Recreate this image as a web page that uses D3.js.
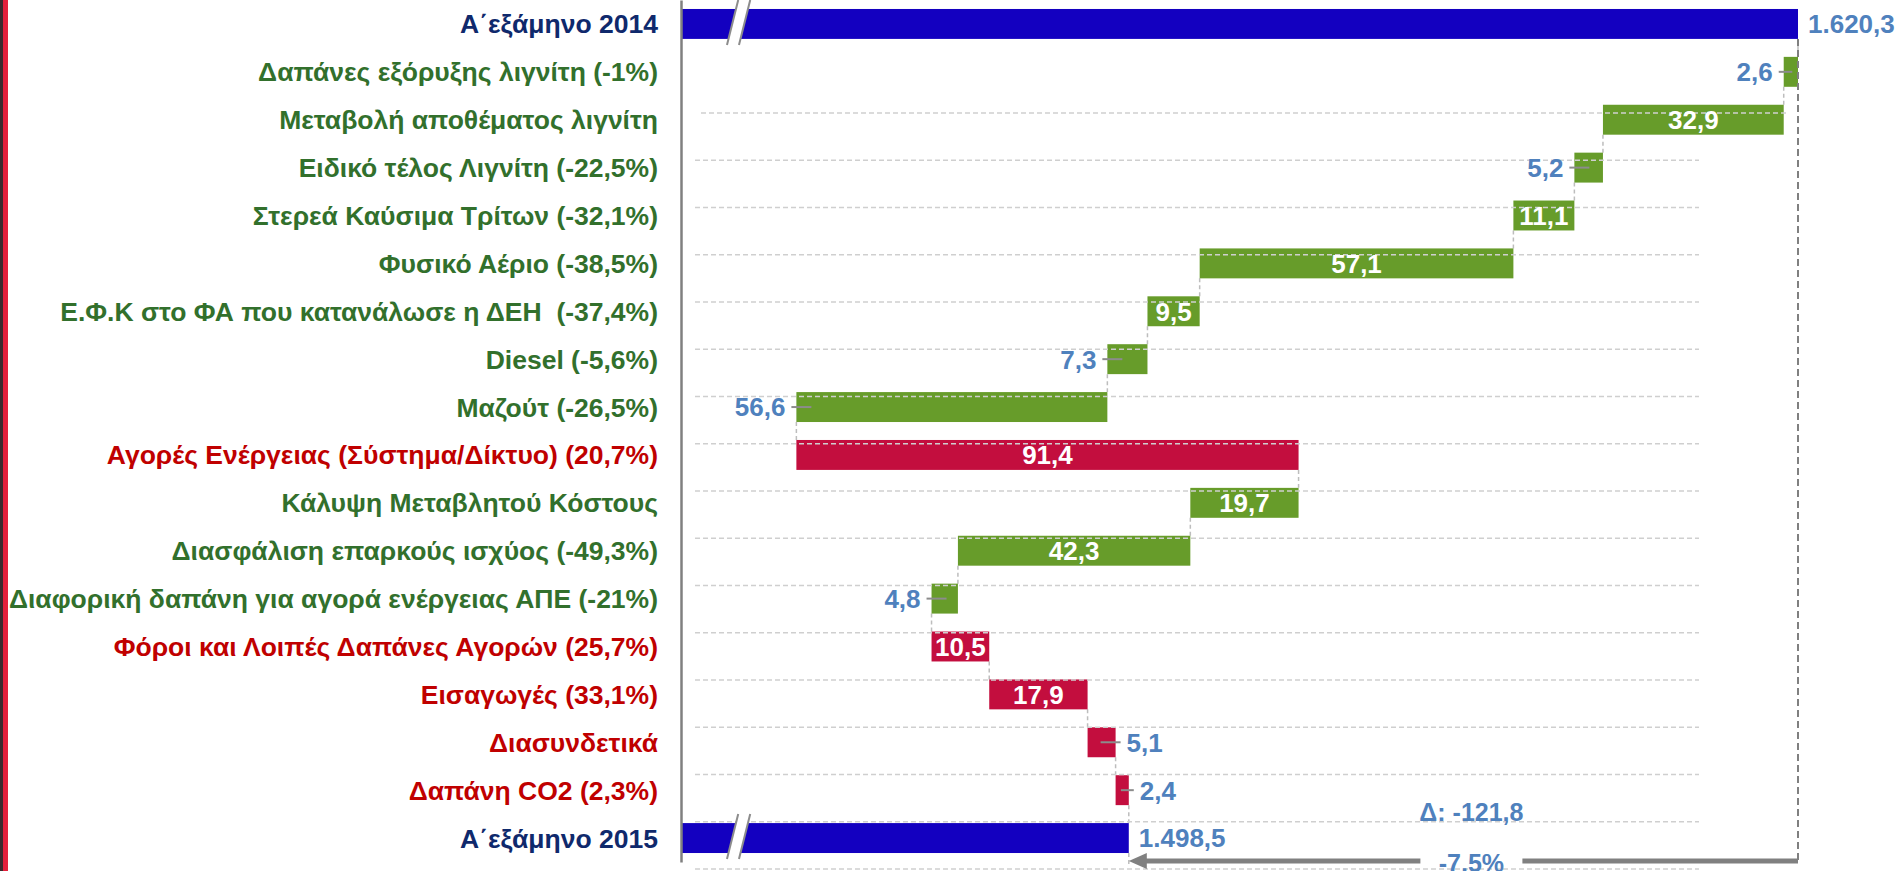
<!DOCTYPE html>
<html>
<head>
<meta charset="utf-8">
<script src="https://cdn.jsdelivr.net/npm/d3@7/dist/d3.min.js"></script>
<style>
  html, body { margin: 0; padding: 0; background: #fff; overflow: hidden; }
  svg { display: block; font-family: Arial, "Liberation Sans", sans-serif; font-weight: bold; }
  text { white-space: pre; }
</style>
</head>
<body>
<svg id="chart" width="1899" height="871"></svg>
<script>
// categories, top to bottom
const categories = [
  'Α΄εξάμηνο 2014',
  'Δαπάνες εξόρυξης λιγνίτη (-1%)',
  'Μεταβολή αποθέματος λιγνίτη',
  'Ειδικό τέλος Λιγνίτη (-22,5%)',
  'Στερεά Καύσιμα Τρίτων (-32,1%)',
  'Φυσικό Αέριο (-38,5%)',
  'Ε.Φ.Κ στο ΦΑ που κατανάλωσε η ΔΕΗ  (-37,4%)',
  'Diesel (-5,6%)',
  'Μαζούτ (-26,5%)',
  'Αγορές Ενέργειας (Σύστημα/Δίκτυο) (20,7%)',
  'Κάλυψη Μεταβλητού Κόστους',
  'Διασφάλιση επαρκούς ισχύος (-49,3%)',
  'Διαφορική δαπάνη για αγορά ενέργειας ΑΠΕ (-21%)',
  'Φόροι και Λοιπές Δαπάνες Αγορών (25,7%)',
  'Εισαγωγές (33,1%)',
  'Διασυνδετικά',
  'Δαπάνη CO2 (2,3%)',
  'Α΄εξάμηνο 2015'
];

// totals (first and last row)
const startTotal = 1620.3;
const endTotal = 1498.5;

// changes between the two totals, same order as categories[1..16]
const changes = [-2.6, -32.9, -5.2, -11.1, -57.1, -9.5, -7.3, -56.6, 91.4, -19.7, -42.3, -4.8, 10.5, 17.9, 5.1, 2.4];

// value where the (broken) axis starts
const axisStart = 1417;

// greek number format: 1.620,3
const locale = d3.formatLocale({ decimal: ',', thousands: '.', grouping: [3], currency: ['', ' €'], minus: '-' });
const fmt = locale.format(',.1f');

// build waterfall rows
let run = startTotal;
const rows = [{ name: categories[0], kind: 'total', lo: axisStart, hi: startTotal, v: startTotal, end: startTotal }];
changes.forEach((c, i) => {
  const from = run;
  run = Math.round((run + c) * 10) / 10;
  rows.push({ name: categories[i + 1], kind: c < 0 ? 'dec' : 'inc', lo: Math.min(from, run), hi: Math.max(from, run), v: c, end: run });
});
rows.push({ name: categories[categories.length - 1], kind: 'total', lo: axisStart, hi: endTotal, v: endTotal, end: endTotal });

const svg = d3.select('#chart');

// colours
const barColor = { total: '#1300c0', dec: '#679c2a', inc: '#c30e3e' };
const textColor = { total: '#0f296c', dec: '#32702c', inc: '#c00000' };
const valueBlue = '#4f81bd';

// layout
const plotLeft = 681, plotRight = 1798, plotBottom = 862;

const x = d3.scaleLinear().domain([axisStart, startTotal]).range([plotLeft, plotRight]);
const y = d3.scaleBand().domain(categories).range([0, plotBottom]).paddingInner(0.375).paddingOuter(0.1875);
const bw = y.bandwidth();

// left page border
svg.append('rect').attr('x', 0).attr('y', 0).attr('width', 3).attr('height', 871).attr('fill', '#3a2a2e');
svg.append('rect').attr('x', 3).attr('y', 0).attr('width', 5).attr('height', 871).attr('fill', '#e3203c');

// connectors between consecutive bars
const conn = svg.append('g');
rows.slice(0, -1).forEach((r, i) => {
  conn.append('line')
    .attr('x1', x(r.end)).attr('x2', x(r.end))
    .attr('y1', y(r.name) + bw).attr('y2', y(rows[i + 1].name))
    .attr('stroke', '#bdbdbd').attr('stroke-width', 1.5).attr('stroke-dasharray', '4,3');
});

// bars
svg.append('g').selectAll('rect').data(rows).join('rect')
  .attr('x', d => x(d.lo))
  .attr('y', d => y(d.name))
  .attr('width', d => x(d.hi) - x(d.lo))
  .attr('height', bw)
  .attr('fill', d => barColor[d.kind]);

// gridlines (drawn over the bars, as in the original)
const gridY = d3.scaleLinear().domain([0, 16]).range([113, 869]);
svg.append('g').selectAll('line').data(d3.range(17)).join('line')
  .attr('x1', i => i === 0 ? plotLeft + 20 : plotLeft + 14)
  .attr('x2', i => i === 0 ? plotRight - 12 : plotRight - 99)
  .attr('y1', i => gridY(i)).attr('y2', i => gridY(i))
  .attr('stroke', '#cfcfcf').attr('stroke-width', 1.5).attr('stroke-dasharray', '5,3');

// axis with category labels
const yAxis = d3.axisLeft(y).tickSize(0).tickPadding(23);
const ax = svg.append('g').attr('transform', `translate(${plotLeft},0)`).call(yAxis);
ax.select('.domain').attr('stroke', '#808080').attr('stroke-width', 2.5);
ax.selectAll('.tick text')
  .attr('font-size', 26.5)
  .attr('font-family', 'Arial, "Liberation Sans", sans-serif')
  .attr('font-weight', 'bold')
  .attr('dy', '0.36em')
  .attr('fill', (d, i) => textColor[rows[i].kind]);

// axis-break marks on the two total bars
rows.filter(r => r.kind === 'total').forEach(r => {
  const top = y(r.name) - 9, bot = y(r.name) + bw + 6;
  const bx = plotLeft + 46, gap = 12, lean = (bot - top) * 0.25;
  svg.append('path')
    .attr('d', `M${bx},${bot}L${bx + lean},${top}L${bx + lean + gap},${top}L${bx + gap},${bot}Z`)
    .attr('fill', '#fff');
  [0, gap].forEach(o => {
    svg.append('line')
      .attr('x1', bx + o).attr('y1', bot).attr('x2', bx + o + lean).attr('y2', top)
      .attr('stroke', '#8c8c8c').attr('stroke-width', 2);
  });
});

// value labels
const forcedOutside = new Set(['Μαζούτ (-26,5%)']);
const labels = svg.append('g').attr('font-size', 26);
rows.forEach(r => {
  const x0 = x(r.lo), x1 = x(r.hi), cy = y(r.name) + bw / 2;
  const txt = fmt(Math.abs(r.v));
  if (r.kind === 'total') {
    labels.append('text').attr('x', x1 + 10).attr('y', cy).attr('dy', '0.36em')
      .attr('fill', valueBlue).text(txt);
    return;
  }
  const inside = (x1 - x0) > 45 && !forcedOutside.has(r.name);
  if (inside) {
    labels.append('text').attr('x', (x0 + x1) / 2).attr('y', cy).attr('dy', '0.36em')
      .attr('text-anchor', 'middle').attr('fill', '#fff').text(txt);
  } else if (r.kind === 'dec') {
    labels.append('line').attr('x1', x0 - 5).attr('x2', x0 + Math.min(15, (x1 - x0) * 0.6))
      .attr('y1', cy).attr('y2', cy).attr('stroke', '#8c8c8c').attr('stroke-width', 2);
    labels.append('text').attr('x', x0 - 11).attr('y', cy).attr('dy', '0.36em')
      .attr('text-anchor', 'end').attr('fill', valueBlue).text(txt);
  } else {
    labels.append('line').attr('x1', x1 - Math.min(15, (x1 - x0) * 0.6)).attr('x2', x1 + 5)
      .attr('y1', cy).attr('y2', cy).attr('stroke', '#8c8c8c').attr('stroke-width', 2);
    labels.append('text').attr('x', x1 + 11).attr('y', cy).attr('dy', '0.36em')
      .attr('fill', valueBlue).text(txt);
  }
});

// difference annotation
const diff = endTotal - startTotal;
const pct = diff / startTotal * 100;
const arrowY = 861;
const xs = x(startTotal), xe = x(endTotal);
const midX = (xs + xe) / 2 + 8;

svg.append('line')
  .attr('x1', xs).attr('x2', xs)
  .attr('y1', y(categories[0]) + bw).attr('y2', arrowY)
  .attr('stroke', '#808080').attr('stroke-width', 2).attr('stroke-dasharray', '7,4');
svg.append('line')
  .attr('x1', xe).attr('x2', xe)
  .attr('y1', y(categories[categories.length - 1]) + bw).attr('y2', arrowY + 6)
  .attr('stroke', '#bdbdbd').attr('stroke-width', 1.5).attr('stroke-dasharray', '4,3');

const arrow = svg.append('g').attr('stroke', '#808080').attr('stroke-width', 5);
arrow.append('line').attr('x1', xs).attr('x2', midX + 51).attr('y1', arrowY).attr('y2', arrowY);
arrow.append('line').attr('x1', midX - 51).attr('x2', xe + 14).attr('y1', arrowY).attr('y2', arrowY);
svg.append('path')
  .attr('d', `M${xe},${arrowY}L${xe + 18},${arrowY - 8}L${xe + 18},${arrowY + 8}Z`)
  .attr('fill', '#808080');

svg.append('text').attr('x', midX).attr('y', 821).attr('text-anchor', 'middle')
  .attr('font-size', 25).attr('fill', valueBlue)
  .text('Δ: ' + fmt(diff));
svg.append('text').attr('x', midX).attr('y', 872).attr('text-anchor', 'middle')
  .attr('font-size', 25).attr('fill', valueBlue)
  .text(fmt(pct) + '%');
</script>
</body>
</html>
